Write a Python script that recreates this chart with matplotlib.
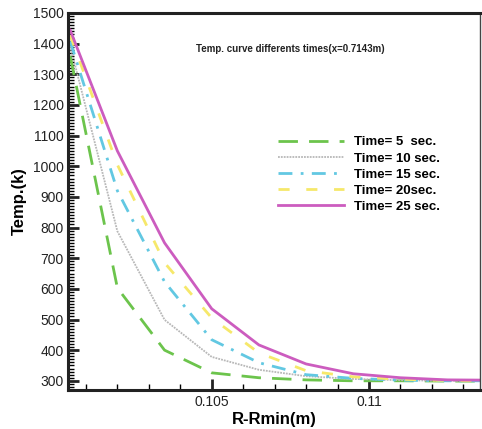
import matplotlib
matplotlib.use("Agg")
import matplotlib.pyplot as plt
from matplotlib.ticker import MultipleLocator, FixedLocator

plt.rcParams['font.family'] = ['Liberation Sans', 'DejaVu Sans']

x = [0.1005, 0.1020, 0.1035, 0.1050, 0.1065, 0.1080, 0.1095, 0.1110, 0.1125, 0.1140]
t5 = [1360, 603, 400, 326, 310, 303, 300, 300, 299, 299]
t10 = [1392, 788, 499, 378, 336, 315, 306, 302, 300, 300]
t15 = [1408, 920, 623, 434, 359, 320, 308, 302, 300, 300]
t20 = [1428, 1005, 685, 505, 391, 333, 313, 305, 301, 300]
t25 = [1444, 1050, 750, 535, 417, 355, 323, 310, 303, 302]
labels = ['Time= 5  sec.', 'Time= 10 sec.', 'Time= 15 sec.', 'Time= 20sec.', 'Time= 25 sec.']

fig = plt.figure(figsize=(4.82, 4.29), dpi=100)
ax = fig.add_axes([68/482, 1-390/429, (480-68)/482, (390-13)/429])

ax.plot(x, t5, color='#6cc44c', lw=2.0, dashes=(7, 4), label=labels[0])
ax.plot(x, t10, color='#b8b8b8', lw=1.3, ls=(0, (1, 0.6)), label=labels[1])
ax.plot(x, t15, color='#62c8e2', lw=2.0, dashes=(5, 3, 1, 3), label=labels[2])
ax.plot(x, t20, color='#f6e86a', lw=2.0, dashes=(4, 6), label=labels[3])
ax.plot(x, t25, color='#cc5cbf', lw=2.0, label=labels[4])

ax.set_xlim(0.10043, 0.11353)
ax.set_ylim(270, 1500)

ax.xaxis.set_major_locator(FixedLocator([0.105, 0.11]))
ax.set_xticklabels(['0.105', '0.11'])
ax.xaxis.set_minor_locator(MultipleLocator(0.001))
ax.yaxis.set_major_locator(MultipleLocator(100))
ax.yaxis.set_minor_locator(MultipleLocator(10))

ax.tick_params(axis='both', which='major', direction='in', length=8, width=2,
               labelsize=10, colors='#222222', top=False, right=False)
ax.tick_params(axis='both', which='minor', direction='in', length=4, width=1,
               top=False, right=False)
ax.tick_params(axis='y', which='major', pad=3)

for s in ['left', 'bottom', 'top']:
    ax.spines[s].set_linewidth(2.2)
    ax.spines[s].set_color('#222222')
ax.spines['right'].set_linewidth(1.0)
ax.spines['right'].set_color('#444444')

ax.set_xlabel('R-Rmin(m)', fontsize=12, fontweight='bold', labelpad=2)
ax.set_ylabel('Temp.(k)', fontsize=12, fontweight='bold', labelpad=4)

ax.text(0.54, 0.905, 'Temp. curve differents times(x=0.7143m)', transform=ax.transAxes,
        fontsize=7, fontweight='bold', ha='center', va='center', color='#222222')

leg = ax.legend(loc='upper left', bbox_to_anchor=(0.48, 0.705), frameon=False,
                prop={'weight': 'bold', 'size': 9.5}, handlelength=5.0,
                labelspacing=0.3, handletextpad=0.8)

fig.savefig('out.png', dpi=100)
